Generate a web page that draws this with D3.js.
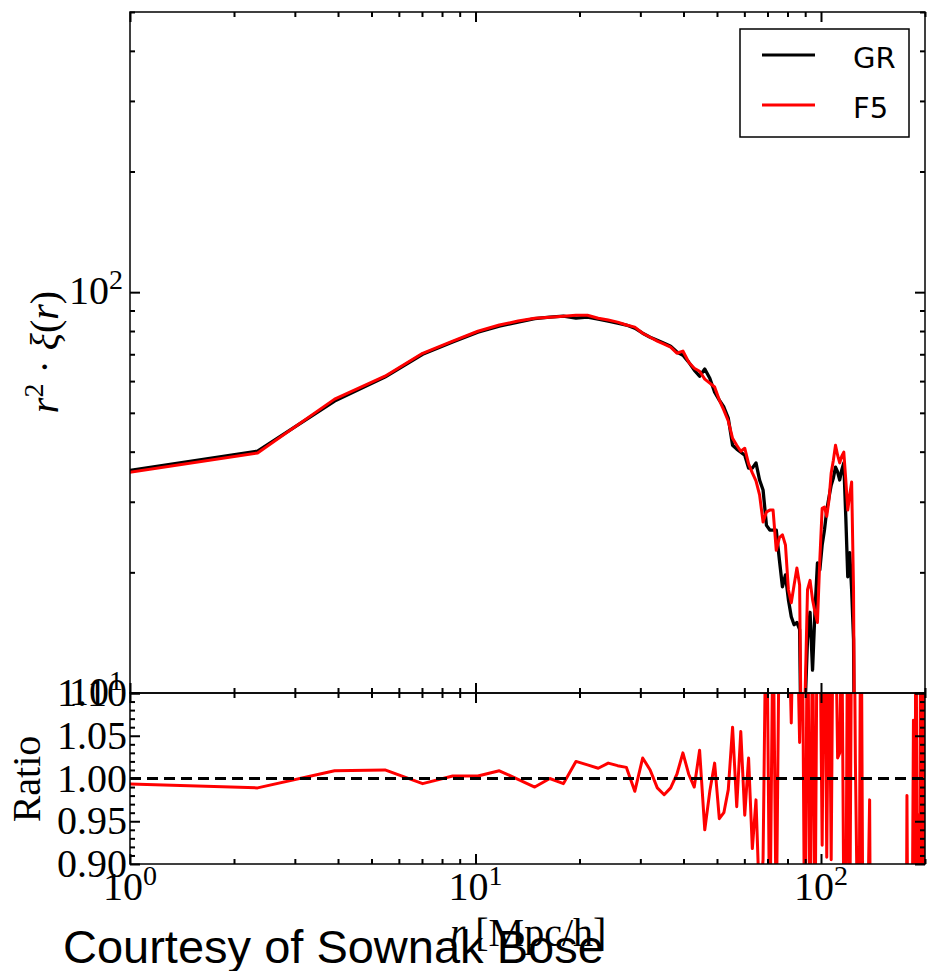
<!DOCTYPE html>
<html><head><meta charset="utf-8">
<script src="https://cdn.jsdelivr.net/npm/d3@7"></script>
<style>body{margin:0;background:#fff}
.serif{font-family:"Liberation Serif","Times New Roman","DejaVu Serif",serif;}
</style>
</head><body><svg id="c" width="927" height="971"></svg>
<script>
// ---- data ----
const r = [0.78,2.34,3.91,5.47,7.03,8.59,10.16,11.72,13.28,14.84,16.41,17.97,19.53,21.09,22.66,24.22,25.78,27.34,28.91,30.47,
32.03,33.59,35.16,36.72,38.28,39.84,41.41,42.97,44.53,46.09,47.66,49.22,50.78,52.34,53.91,55.47,57.03,58.59,60.16,61.72,
63.28,64.84,66.41,67.97,69.53,71.09,72.66,74.22,75.78,77.34,78.91,80.47,82.03,83.59,85.16,86.72,88.28,89.84,91.41,92.97,
94.53,96.09,97.66,99.22,100.78,102.34,103.91,105.47,107.03,108.59,110.16,111.72,113.28,114.84,116.41,117.97,119.53,121.09,122.66,124.22,
125.78,127.34,128.91,130.47,132.03,133.59,135.16,136.72,138.28,139.84,141.41,142.97,144.53,146.09,147.66,149.22,150.78,152.34,153.91,155.47,
157.03,158.59,160.16,161.72,163.28,164.84,166.41,167.97,169.53,171.09,172.66,174.22,175.78,177.34,178.91,180.47,182.03,183.59,185.16,186.72,
188.28,189.84,191.41,192.97,194.53,196.09,197.66,199.22];

const gr = [34.8,40.1,53.5,61.4,70.0,75.1,79.5,82.3,84.2,85.9,86.6,87.1,86.1,86.6,85.6,84.7,83.7,82.8,81.3,79.0,
77.2,75.9,74.6,73.3,70.9,69.6,66.9,63.9,61.7,64.3,61.0,56.3,53.8,51.7,48.5,41.5,40.6,39.9,39.2,36.4,
36.4,37.5,34.0,32.1,26.2,25.5,25.5,25.5,21.5,18.4,19.7,17.1,15.5,14.8,15.0,14.4,4.0,9.0,13.6,15.9,
11.4,16.1,21.1,20.3,23.4,25.5,28.6,30.8,33.0,34.4,36.6,35.6,34.0,36.0,37.5,27.5,19.5,22.4,18.1,13.6,
3.0];

const f5 = [34.4,39.7,54.1,61.7,70.4,75.5,79.9,82.8,84.7,86.1,86.6,87.1,87.6,87.6,86.1,85.2,84.2,82.8,81.8,79.0,
77.2,75.5,74.2,72.9,70.4,71.3,66.9,64.6,63.5,60.7,59.3,58.0,53.8,50.8,47.7,43.2,41.5,40.1,40.8,37.3,
35.4,33.8,31.2,26.7,28.3,28.6,28.6,22.7,24.4,24.8,23.4,18.1,16.8,18.6,20.5,18.6,4.0,9.5,18.1,19.1,
17.1,15.9,15.0,21.5,28.9,29.1,27.6,30.3,35.4,38.1,41.5,39.2,37.5,39.0,39.9,34.0,28.6,31.2,33.6,18.1,
3.0];

const ratio = [0.995,0.989,1.009,1.010,0.994,1.003,1.003,1.009,0.999,0.990,1.000,0.994,1.020,1.016,1.012,1.018,1.015,1.013,0.985,1.024,
1.010,0.989,0.981,0.989,1.005,1.030,1.005,0.990,1.033,0.940,0.985,1.018,0.953,0.960,0.987,1.060,0.967,1.055,0.957,1.024,
0.918,0.975,0.850,0.905,1.250,0.800,1.200,0.820,1.200,1.150,1.250,1.200,1.065,1.250,1.200,1.042,1.200,0.750,1.250,0.800,
1.200,0.800,1.250,1.200,0.922,1.250,0.908,1.200,0.905,1.250,1.200,1.024,1.030,1.200,0.850,0.800,1.250,0.800,1.200,1.300,
1.018,0.850,0.800,1.300,0.850,0.800,0.700,0.850,0.975,0.600,0.600,0.550,0.600,0.500,0.600,0.650,0.600,0.550,0.600,0.600,
0.500,0.600,0.650,0.600,0.550,0.600,0.600,0.500,0.600,0.650,0.600,0.550,0.600,0.980,0.700,0.600,0.700,0.800,1.068,0.700,
1.300,0.800,0.957,0.800,1.300,0.850,1.250,0.850];

const xMajor = [1, 10, 100];
const xMajorExp = ["0", "1", "2"];
const xMinor = [2,3,4,5,6,7,8,9,20,30,40,50,60,70,80,90,200];
const yMajor = [10, 100];
const yMajorExp = ["1", "2"];
const yMinor = [20,30,40,50,60,70,80,90,200,300,400,500];
const ratioMajor = [0.90,0.95,1.00,1.05,1.10];
const ratioMinor = [0.91,0.92,0.93,0.94,0.96,0.97,0.98,0.99,1.01,1.02,1.03,1.04,1.06,1.07,1.08,1.09];
const seriesNames = ["GR", "F5"];
const seriesColors = ["#000000", "#ff0000"];

// ---- layout ----
const L = 130, R = 925, T = 12, M = 693, B = 864;
const svg = d3.select("#c");
const x = d3.scaleLog().domain([1, 200]).range([L, R]);
const yTop = d3.scaleLog().domain([10, 500]).range([M, T]);
const yBot = d3.scaleLinear().domain([0.9, 1.1]).range([B, M]);

const defs = svg.append("defs");
defs.append("clipPath").attr("id", "ct").append("rect").attr("x", L).attr("y", T).attr("width", R - L).attr("height", M - T);
defs.append("clipPath").attr("id", "cb").append("rect").attr("x", L).attr("y", M).attr("width", R - L).attr("height", B - M);

// ---- lines top ----
function pts(vals) { return r.map((rv, i) => ({ r: rv, v: i < vals.length ? vals[i] : null })); }
const lineTop = d3.line().defined(d => d.v != null).x(d => x(d.r)).y(d => yTop(d.v));
const gTop = svg.append("g").attr("clip-path", "url(#ct)");
gTop.append("path").datum(pts(gr)).attr("d", lineTop).attr("fill", "none").attr("stroke", seriesColors[0]).attr("stroke-width", 3.3).attr("stroke-linejoin", "round");
gTop.append("path").datum(pts(f5)).attr("d", lineTop).attr("fill", "none").attr("stroke", seriesColors[1]).attr("stroke-width", 3).attr("stroke-linejoin", "round");

// ---- lines bottom ----
const lineBot = d3.line().x(d => x(d.r)).y(d => yBot(d.v));
const gBot = svg.append("g").attr("clip-path", "url(#cb)");
gBot.append("path").datum(pts(ratio)).attr("d", lineBot).attr("fill", "none").attr("stroke", "#ff0000").attr("stroke-width", 3).attr("stroke-linejoin", "round");
gBot.append("line").attr("x1", L).attr("x2", R).attr("y1", yBot(1)).attr("y2", yBot(1))
  .attr("stroke", "#000").attr("stroke-width", 3).attr("stroke-dasharray", "11,6");

// ---- frames ----
svg.append("rect").attr("x", L).attr("y", T).attr("width", R - L).attr("height", M - T).attr("fill", "none").attr("stroke", "#000").attr("stroke-width", 1.5);
svg.append("rect").attr("x", L).attr("y", M).attr("width", R - L).attr("height", B - M).attr("fill", "none").attr("stroke", "#000").attr("stroke-width", 1.5);

// ---- ticks ----
function ticks(axisFn, scale, vals, size, tx, ty) {
  const g = svg.append("g").attr("transform", `translate(${tx},${ty})`)
    .call(axisFn(scale).tickValues(vals).tickSize(-size).tickFormat(""));
  g.select(".domain").remove();
  g.selectAll(".tick line").attr("stroke", "#000").attr("stroke-width", 2);
}
ticks(d3.axisTop, x, xMajor, 10, 0, T);
ticks(d3.axisTop, x, xMinor, 5, 0, T);
ticks(d3.axisBottom, x, xMajor, 10, 0, M);
ticks(d3.axisBottom, x, xMinor, 5, 0, M);
ticks(d3.axisLeft, yTop, yMajor, 10, L, 0);
ticks(d3.axisLeft, yTop, yMinor, 5, L, 0);
ticks(d3.axisRight, yTop, yMajor, 10, R, 0);
ticks(d3.axisRight, yTop, yMinor, 5, R, 0);
ticks(d3.axisTop, x, xMajor, 10, 0, M);
ticks(d3.axisTop, x, xMinor, 5, 0, M);
ticks(d3.axisBottom, x, xMajor, 10, 0, B);
ticks(d3.axisBottom, x, xMinor, 5, 0, B);
ticks(d3.axisLeft, yBot, ratioMajor, 10, L, 0);
ticks(d3.axisLeft, yBot, ratioMinor, 5, L, 0);
ticks(d3.axisRight, yBot, ratioMajor, 10, R, 0);
ticks(d3.axisRight, yBot, ratioMinor, 5, R, 0);

// ---- tick labels ----
const fs = 40, fsSup = 28;
function stext(sel) {
  return sel.append("text").attr("class", "serif").style("font-size", fs + "px").attr("fill", "#000");
}
function powLabel(xp, yp, exp, anchor) {
  const t = stext(svg).attr("x", xp).attr("y", yp).attr("text-anchor", anchor);
  t.append("tspan").text("10");
  t.append("tspan").attr("dy", -15).style("font-size", fsSup + "px").text(exp);
}
xMajor.forEach((v, i) => powLabel(x(v), 900, xMajorExp[i], "middle"));
yMajor.forEach((v, i) => powLabel(123, yTop(v) + 12, yMajorExp[i], "end"));
ratioMajor.forEach(v => {
  stext(svg).attr("x", 127).attr("y", yBot(v) + 13).attr("text-anchor", "end").text(v.toFixed(2));
});

// ---- axis titles ----
const yl = stext(svg).attr("transform", "translate(58,352) rotate(-90)").attr("text-anchor", "middle");
yl.append("tspan").style("font-style", "italic").text("r");
yl.append("tspan").attr("dy", -15).style("font-size", fsSup + "px").text("2");
yl.append("tspan").attr("dy", 15).text(" · ");
yl.append("tspan").style("font-style", "italic").text("ξ");
yl.append("tspan").text("(");
yl.append("tspan").style("font-style", "italic").text("r");
yl.append("tspan").text(")");

stext(svg).attr("transform", "translate(40,779) rotate(-90)").attr("text-anchor", "middle").text("Ratio");

const xl = stext(svg).attr("x", 528).attr("y", 946).attr("text-anchor", "middle");
xl.append("tspan").style("font-style", "italic").text("r");
xl.append("tspan").text(" [Mpc/h]");

// ---- legend ----
const lg = svg.append("g");
lg.append("rect").attr("x", 740).attr("y", 29).attr("width", 169).attr("height", 108)
  .attr("fill", "#fff").attr("stroke", "#000").attr("stroke-width", 1.5);
seriesNames.forEach((n, i) => {
  const yy = 55 + i * 50;
  lg.append("line").attr("x1", 762).attr("x2", 815).attr("y1", yy).attr("y2", yy)
    .attr("stroke", seriesColors[i]).attr("stroke-width", 3);
  lg.append("text").attr("x", 853).attr("y", yy + 13).style("font-family", "'DejaVu Sans', sans-serif")
    .style("font-size", "29px").attr("fill", "#000").text(n);
});

// ---- credit ----
svg.append("text").attr("x", 63).attr("y", 963).style("font-family", "'Liberation Sans', Arial, sans-serif")
  .style("font-size", "47px").attr("fill", "#000").text("Courtesy of Sownak Bose");
</script></body></html>
